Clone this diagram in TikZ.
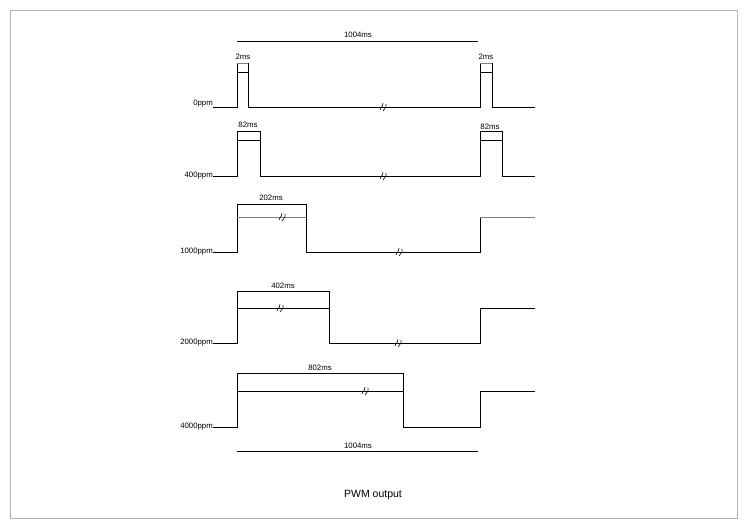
\documentclass[tikz,border=0pt]{standalone}
\usepackage{fontspec}
\setmainfont{Liberation Sans}
\begin{document}
\begin{tikzpicture}[x=1pt,y=-1pt,
  sig/.style={line width=0.9pt,black},
  thin/.style={line width=0.5pt,gray},
  dim/.style={line width=0.7pt,black},
  lbl/.style={font=\fontsize{7.8}{9}\selectfont,inner sep=0pt},
  ppm/.style={font=\fontsize{7.8}{9}\selectfont,inner sep=0pt,anchor=east},
  brk/.pic={\draw[line width=0.6pt] (-5,3) .. controls (-4,-1) and (-1,-1) .. (-2,-4) (-2,4) .. controls (-1,1) and (2,1) .. (1,-3);}]
\useasboundingbox (0,0) rectangle (747,528);
\draw[line width=1pt,gray!60] (10,10) rectangle (737,518);
% top 1004ms
\coordinate (t1) at (237,41); \coordinate (t2) at (478,41);
\draw[dim] (t1) -- (t2);
\node[lbl] (tl) at (358,35) {1004ms};
% 0ppm
\node[ppm] (l0) at (213,104) {0ppm};
\draw[sig] (213,107) -- (237,107) -- (237,63) (248,63) -- (248,107) -- (480,107) -- (480,63) (492,63) -- (492,107) -- (535,107);
\draw[thin] (237,63) -- (248,63) (480,63) -- (492,63);
\draw[dim] (237,72) -- (248,72) (480,72) -- (492,72);
\node[lbl] (a0) at (243,57) {2ms};
\node[lbl] (b0) at (486,57) {2ms};
\pic at (385,107) {brk};
% 400ppm
\node[ppm] (l1) at (213,176) {400ppm};
\draw[sig] (213,176) -- (237,176) -- (237,131) (237,140) -- (260,140) (260,131) -- (260,176) -- (480,176) -- (480,131) (480,140) -- (502,140) (502,131) -- (502,176) -- (535,176);
\draw[dim] (237,131) -- (260,131) (480,131) -- (502,131);
\node[lbl] (a1) at (248,125) {82ms};
\node[lbl] (b1) at (490,127) {82ms};
\pic at (385,176) {brk};
% 1000ppm
\node[ppm] (l2) at (213,252) {1000ppm};
\draw[sig] (213,252) -- (237,252) -- (237,204) (306,204) -- (306,252) -- (480,252) -- (480,217);
\draw[thin] (237,217) -- (306,217) (480,217) -- (535,217);
\draw[dim] (237,204) -- (306,204);
\node[lbl] (a2) at (271,198) {202ms};
\pic at (284,217) {brk};
\pic at (401,252) {brk};
% 2000ppm
\node[ppm] (l3) at (213,343) {2000ppm};
\draw[sig] (213,343) -- (237,343) -- (237,291) (237,308) -- (329,308) (329,291) -- (329,343) -- (480,343) -- (480,308) -- (535,308);
\draw[dim] (237,291) -- (329,291);
\node[lbl] (a3) at (283,286) {402ms};
\pic at (282,308) {brk};
\pic at (400,343) {brk};
% 4000ppm
\node[ppm] (l4) at (213,427) {4000ppm};
\draw[sig] (213,427) -- (237,427) -- (237,373) (237,391) -- (403,391) (403,373) -- (403,427) -- (480,427) -- (480,391) -- (535,391);
\draw[dim] (237,373) -- (403,373);
\node[lbl] (a4) at (320,368) {802ms};
\pic at (367,391) {brk};
% bottom 1004ms
\coordinate (u1) at (237,451); \coordinate (u2) at (478,451);
\draw[dim] (u1) -- (u2);
\node[lbl] (ul) at (358,446) {1004ms};
\node[font=\fontsize{10.5}{12}\selectfont] (cap) at (373,495) {PWM output};
\end{tikzpicture}
\end{document}
